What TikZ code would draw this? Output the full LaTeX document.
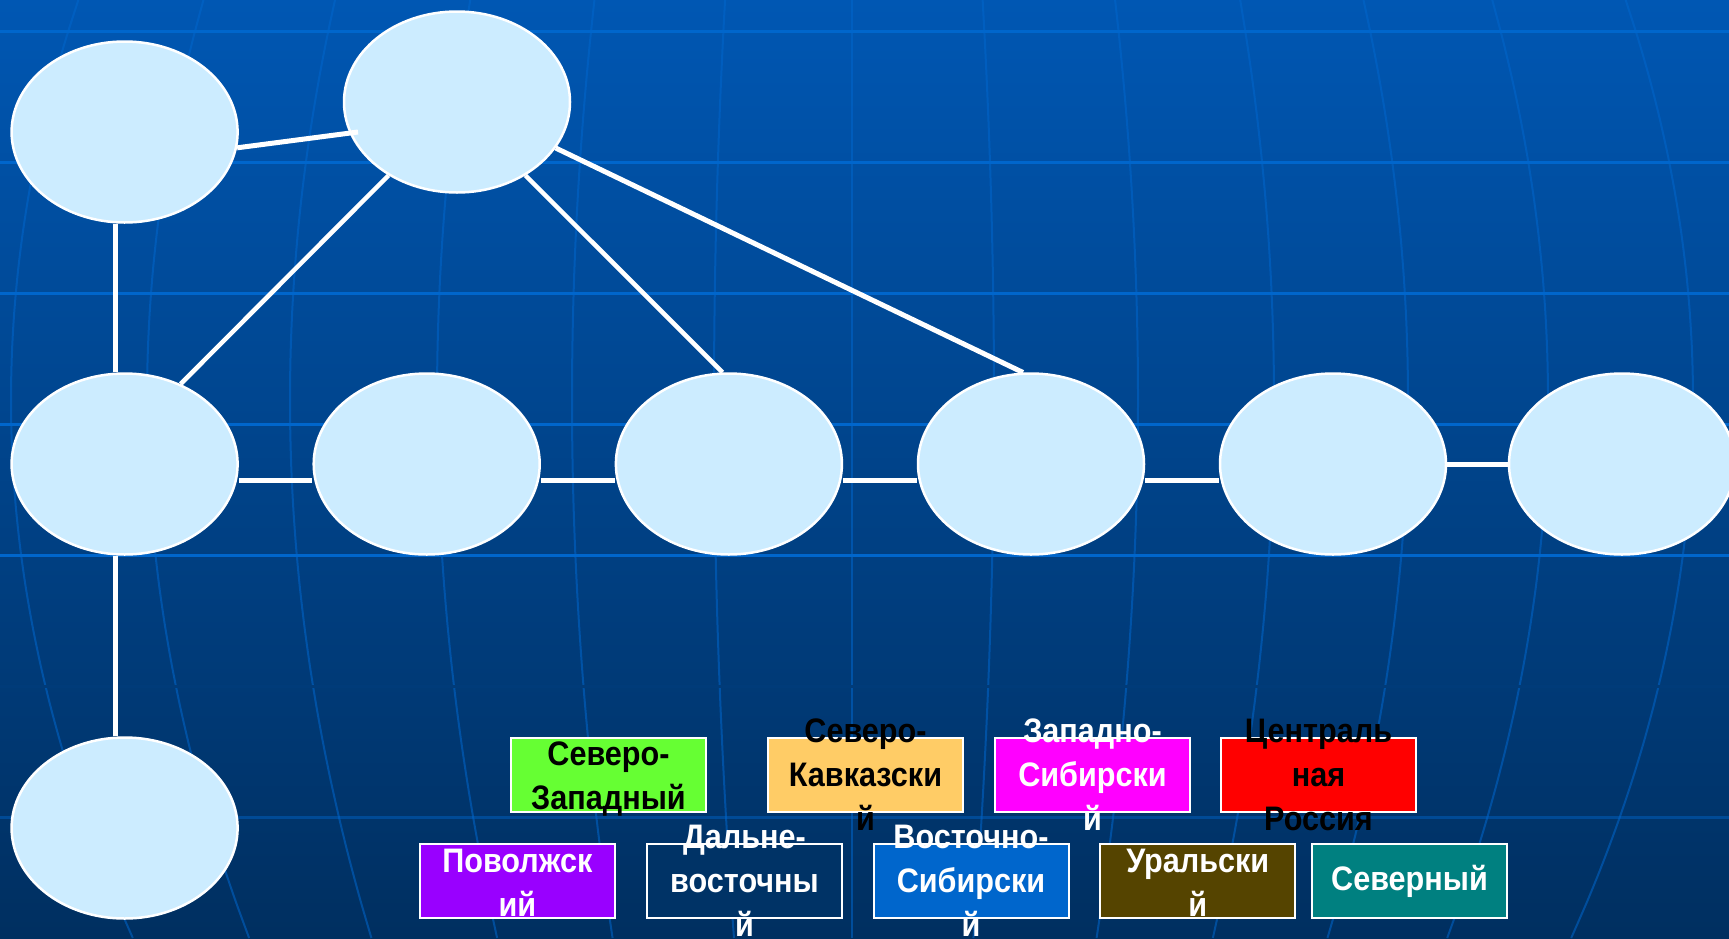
\documentclass[tikz,border=0pt]{standalone}
\usepackage{fontspec}
\newfontfamily\lblfont[FakeStretch=0.9]{Liberation Sans}
\usetikzlibrary{calc,shapes.geometric}
\definecolor{bgtop}{HTML}{0057B3}
\definecolor{bgmid}{HTML}{00468E}
\definecolor{bgbot}{HTML}{002F60}
\definecolor{gridc}{HTML}{0066CC}
\definecolor{nodefill}{HTML}{CCECFF}
\definecolor{cgreen}{HTML}{66FF33}
\definecolor{corange}{HTML}{FFCC66}
\definecolor{cmagenta}{HTML}{FF00FF}
\definecolor{cred}{HTML}{FF0000}
\definecolor{cpurple}{HTML}{9900FF}
\definecolor{cnavy}{HTML}{003366}
\definecolor{cblue}{HTML}{0066CC}
\definecolor{cbrown}{HTML}{554400}
\definecolor{cteal}{HTML}{008080}
\begin{document}
\begin{tikzpicture}[x=1pt,y=-1pt,
  region/.style={ellipse,draw=white,line width=2.5pt,fill=nodefill,minimum width=226pt,minimum height=181pt,inner sep=0pt},
  link/.style={draw=white,line width=5pt},
  hline/.style={draw=gridc,line width=3pt},
  meridian/.style={draw=gridc,line width=2pt,opacity=0.55},
  box/.style={draw=white,line width=2pt,minimum width=195pt,minimum height=74pt,inner sep=0pt},
  lbl/.style={font=\lblfont\bfseries\fontsize{34pt}{44pt}\selectfont,align=center,inner sep=0pt}]
\useasboundingbox (0,0) rectangle (1729,938);
\shade[top color=bgtop,middle color=bgmid,bottom color=bgbot] (0,0) rectangle (1729,938);
% meridians
\foreach \m in {11,147,290,437,572,714,852,994,1138,1274,1408,1548,1693}
  \draw[meridian] plot[domain=0:938,samples=25,smooth] ({852+(\m-852)*(1-0.005*((\x-400)/100)^2)},\x);
% parallels
\foreach \y/\o in {31/1,162/1,293/1,424/1,555/1,817/0.45}
  \draw[hline,opacity=\o] (0,\y) -- (1729,\y);
\draw[line width=3pt,bgmid!54!bgbot] (0,686) -- (1729,686);
% regions
\node[region] (e1) at (124.6,132) {};
\node[region] (e2) at (457,102) {};
\node[region] (e3) at (124.6,464) {};
\node[region] (e4) at (426.7,464) {};
\node[region] (e5) at (728.9,464) {};
\node[region] (e6) at (1031,464) {};
\node[region] (e7) at (1333,464) {};
\node[region] (e8) at (1622,464) {};
\node[region] (e9) at (124.6,828) {};
% connectors
\draw[link] ([xshift=-9pt]e1.south) -- ([xshift=-9pt]e3.north);
\draw[link] ([xshift=-9pt]e3.south) -- ([xshift=-9pt]e9.north);
\draw[link] ([yshift=-16pt]e3.east) -- ([yshift=-16pt]e4.west);
\draw[link] ([yshift=-16pt]e4.east) -- ([yshift=-16pt]e5.west);
\draw[link] ([yshift=-16pt]e5.east) -- ([yshift=-16pt]e6.west);
\draw[link] ([yshift=-16pt]e6.east) -- ([yshift=-16pt]e7.west);
\draw[link] (e7.east) -- (e8.west);
\draw[link,line width=4.5pt] (e2.227) -- (e3.55);
\draw[link,line width=4.5pt] (e2.-47) -- (e5.94);
\draw[link] (e2.-25) -- (e6.95);
\draw[link] (e1.-8) -- ($(e2.center)+(-99,30)$);
% legend boxes
\node[box,fill=cgreen] (b1) at (608.5,775) {};
\node[box,fill=corange] (b2) at (865.5,775) {};
\node[box,fill=cmagenta] (b3) at (1092.5,775) {};
\node[box,fill=cred] (b4) at (1318.5,775) {};
\node[box,fill=cpurple] (b5) at (517.4,881) {};
\node[box,fill=cnavy] (b6) at (744.5,881) {};
\node[box,fill=cblue] (b7) at (971,881) {};
\node[box,fill=cbrown] (b8) at (1197.8,881) {};
\node[box,fill=cteal] (b9) at (1409.5,881) {};
\node[lbl,text=black,yshift=-4pt] (t1) at (b1.center) {Северо-\\Западный};
\node[lbl,text=black] (t2) at (b2.center) {Северо-\\Кавказски\\й};
\node[lbl,text=white] (t3) at (b3.center) {Западно-\\Сибирски\\й};
\node[lbl,text=black] (t4) at (b4.center) {Централь\\ная\\Россия};
\node[lbl,text=white,yshift=-2pt] (t5) at (b5.center) {Поволжск\\ий};
\node[lbl,text=white] (t6) at (b6.center) {Дальне-\\восточны\\й};
\node[lbl,text=white] (t7) at (b7.center) {Восточно-\\Сибирски\\й};
\node[lbl,text=white,yshift=-2pt] (t8) at (b8.center) {Уральски\\й};
\node[lbl,text=white] (t9) at (b9.center) {Северный};
\end{tikzpicture}
\end{document}
